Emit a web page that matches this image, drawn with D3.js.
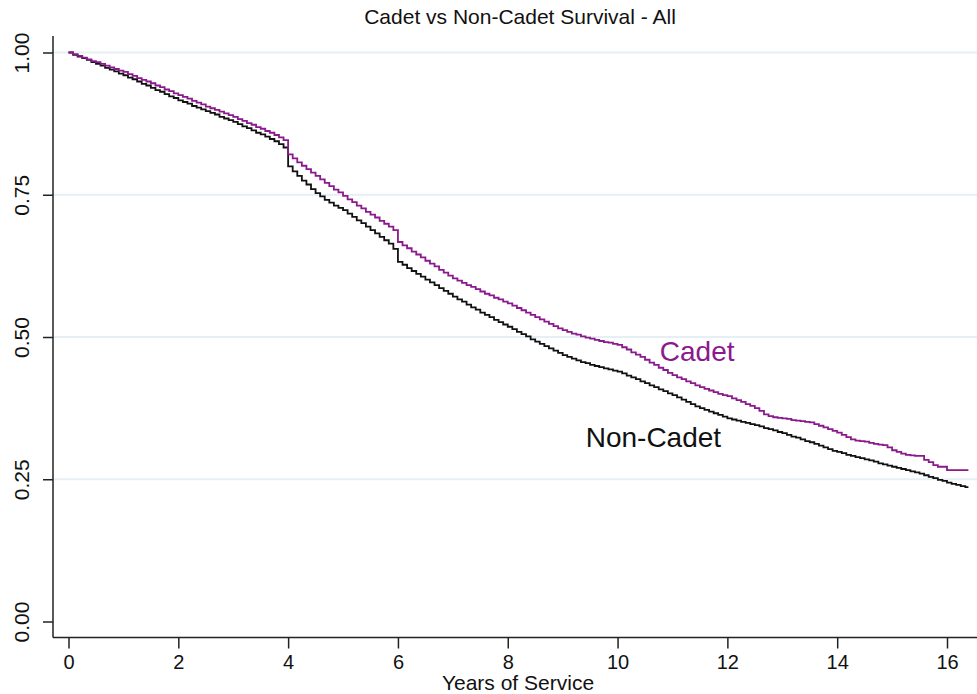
<!DOCTYPE html>
<meta charset="utf-8">
<style>
body {
  margin: 0;
  background: #fff;
  font-family: "Liberation Sans", Arial, Helvetica, sans-serif;
}
.grid line {
  stroke: #e6eff3;
  stroke-width: 1.8;
}
.axis line, .axis path {
  stroke: #222;
  stroke-width: 1.5;
}
.axis text {
  font-size: 20px;
  fill: #111;
}
.km {
  fill: none;
  stroke-width: 1.8;
}
</style>
<body>
<script src="https://cdn.jsdelivr.net/npm/d3@7"></script>
<script>

// Kaplan-Meier estimates at monthly steps (month 0 .. 196)
var cadet = [
  // year 0
  1.000, 0.997, 0.994, 0.991, 0.988, 0.985, 0.983, 0.980, 0.977, 0.974, 0.971, 0.968,
  // year 1
  0.966, 0.962, 0.959, 0.955, 0.952, 0.949, 0.946, 0.942, 0.939, 0.935, 0.932, 0.928,
  // year 2
  0.925, 0.922, 0.919, 0.915, 0.912, 0.909, 0.905, 0.902, 0.899, 0.896, 0.893, 0.890,
  // year 3
  0.887, 0.883, 0.880, 0.876, 0.873, 0.869, 0.866, 0.862, 0.859, 0.855, 0.851, 0.846,
  // year 4
  0.821, 0.814, 0.807, 0.801, 0.795, 0.789, 0.783, 0.777, 0.771, 0.765, 0.759, 0.754,
  // year 5
  0.748, 0.742, 0.737, 0.731, 0.726, 0.720, 0.715, 0.710, 0.704, 0.699, 0.694, 0.688,
  // year 6
  0.667, 0.661, 0.656, 0.650, 0.645, 0.640, 0.634, 0.629, 0.624, 0.618, 0.613, 0.608,
  // year 7
  0.603, 0.599, 0.595, 0.591, 0.588, 0.584, 0.580, 0.576, 0.573, 0.569, 0.566, 0.562,
  // year 8
  0.559, 0.555, 0.551, 0.547, 0.543, 0.539, 0.535, 0.531, 0.527, 0.523, 0.519, 0.515,
  // year 9
  0.512, 0.509, 0.506, 0.504, 0.501, 0.499, 0.497, 0.495, 0.493, 0.491, 0.490, 0.488,
  // year 10
  0.486, 0.482, 0.478, 0.473, 0.469, 0.465, 0.460, 0.455, 0.451, 0.446, 0.442, 0.437,
  // year 11
  0.433, 0.429, 0.426, 0.422, 0.419, 0.415, 0.412, 0.409, 0.406, 0.403, 0.400, 0.398,
  // year 12
  0.396, 0.392, 0.389, 0.386, 0.382, 0.379, 0.375, 0.370, 0.364, 0.361, 0.359, 0.358,
  // year 13
  0.357, 0.356, 0.354, 0.353, 0.352, 0.351, 0.350, 0.347, 0.344, 0.341, 0.338, 0.335,
  // year 14
  0.332, 0.328, 0.324, 0.320, 0.318, 0.317, 0.316, 0.314, 0.312, 0.311, 0.310, 0.306,
  // year 15
  0.301, 0.298, 0.295, 0.293, 0.292, 0.291, 0.291, 0.284, 0.280, 0.275, 0.272, 0.272,
  // year 16
  0.266, 0.266, 0.266, 0.266, 0.266
];

var nonCadet = [
  // year 0
  1.000, 0.996, 0.993, 0.990, 0.987, 0.983, 0.980, 0.977, 0.973, 0.970, 0.967, 0.963,
  // year 1
  0.960, 0.956, 0.953, 0.949, 0.945, 0.942, 0.938, 0.934, 0.931, 0.927, 0.923, 0.920,
  // year 2
  0.916, 0.913, 0.910, 0.906, 0.903, 0.900, 0.897, 0.894, 0.891, 0.887, 0.884, 0.881,
  // year 3
  0.878, 0.874, 0.870, 0.867, 0.863, 0.859, 0.856, 0.852, 0.848, 0.844, 0.839, 0.833,
  // year 4
  0.800, 0.791, 0.783, 0.775, 0.768, 0.760, 0.753, 0.747, 0.741, 0.736, 0.731, 0.727,
  // year 5
  0.723, 0.717, 0.711, 0.705, 0.700, 0.694, 0.688, 0.682, 0.676, 0.670, 0.664, 0.655,
  // year 6
  0.632, 0.627, 0.621, 0.616, 0.611, 0.606, 0.601, 0.596, 0.591, 0.586, 0.581, 0.576,
  // year 7
  0.571, 0.566, 0.562, 0.557, 0.552, 0.548, 0.543, 0.539, 0.535, 0.530, 0.526, 0.522,
  // year 8
  0.518, 0.514, 0.509, 0.505, 0.501, 0.496, 0.492, 0.488, 0.484, 0.480, 0.476, 0.472,
  // year 9
  0.468, 0.465, 0.462, 0.459, 0.456, 0.454, 0.451, 0.449, 0.447, 0.445, 0.443, 0.441,
  // year 10
  0.439, 0.436, 0.432, 0.429, 0.426, 0.422, 0.419, 0.415, 0.412, 0.408, 0.405, 0.401,
  // year 11
  0.398, 0.394, 0.390, 0.386, 0.382, 0.378, 0.375, 0.372, 0.369, 0.366, 0.363, 0.360,
  // year 12
  0.357, 0.355, 0.353, 0.351, 0.349, 0.347, 0.345, 0.343, 0.340, 0.338, 0.336, 0.333,
  // year 13
  0.331, 0.328, 0.325, 0.323, 0.320, 0.317, 0.315, 0.312, 0.309, 0.306, 0.303, 0.300,
  // year 14
  0.298, 0.296, 0.293, 0.291, 0.289, 0.287, 0.285, 0.283, 0.281, 0.278, 0.276, 0.274,
  // year 15
  0.272, 0.270, 0.268, 0.266, 0.264, 0.262, 0.260, 0.257, 0.254, 0.252, 0.249, 0.247,
  // year 16
  0.244, 0.242, 0.240, 0.238, 0.236
];

var followUpEnd = 16.39;   // last observed time, years

var xTicks = [0, 2, 4, 6, 8, 10, 12, 14, 16];
var yTicks = [0, 0.25, 0.5, 0.75, 1];

var seriesNames = ["Cadet", "Non-Cadet"];
var seriesColors = ["#8a1a8c", "#111111"];
// where Stata put the curve labels, in data units (years, survival)
var labelAt = [[10.77, 0.458], [9.42, 0.307]];

var width = 977,
    height = 694;

var frame = {left: 53, right: 977, top: 36, bottom: 637.5};

var x = d3.scaleLinear().domain([0, 16]).range([68.5, 947]);
var y = d3.scaleLinear().domain([0, 1]).range([621.5, 52.5]);

var svg = d3.select("body").append("svg")
    .attr("width", width)
    .attr("height", height);

// horizontal grid
svg.append("g")
    .attr("class", "grid")
  .selectAll("line")
    .data(yTicks.filter(function(d) { return d > 0; }))
  .enter().append("line")
    .attr("x1", frame.left)
    .attr("x2", frame.right)
    .attr("y1", function(d) { return y(d); })
    .attr("y2", function(d) { return y(d); });

// title
svg.append("text")
    .attr("x", 520)
    .attr("y", 24)
    .attr("text-anchor", "middle")
    .style("font-size", "21px")
    .style("fill", "#111")
    .text("Cadet vs Non-Cadet Survival - All");

// x axis
var gx = svg.append("g")
    .attr("class", "axis")
    .attr("transform", "translate(0," + frame.bottom + ")")
    .call(d3.axisBottom(x).tickValues(xTicks).tickSize(11).tickPadding(6).tickSizeOuter(0));
gx.select(".domain").remove();
gx.append("line")
    .attr("x1", frame.left)
    .attr("x2", frame.right);

svg.append("text")
    .attr("x", 518)
    .attr("y", 690)
    .attr("text-anchor", "middle")
    .style("font-size", "21px")
    .style("fill", "#111")
    .text("Years of Service");

// y axis
var gy = svg.append("g")
    .attr("class", "axis")
    .attr("transform", "translate(" + frame.left + ",0)")
    .call(d3.axisLeft(y).tickValues(yTicks).tickFormat(d3.format(".2f")).tickSize(10).tickSizeOuter(0));
gy.select(".domain").remove();
gy.append("line")
    .attr("y1", frame.top)
    .attr("y2", frame.bottom);
gy.selectAll(".tick text")
    .attr("transform", "rotate(-90)")
    .attr("x", 0)
    .attr("y", -24.5)
    .attr("dy", 0)
    .attr("text-anchor", "middle")
    .style("font-size", "21px");

// step curves
function toSteps(values) {
  var pts = values.map(function(v, m) { return [m / 12, v]; });
  pts.push([followUpEnd, values[values.length - 1]]);
  return pts;
}

var line = d3.line()
    .x(function(d) { return x(d[0]); })
    .y(function(d) { return y(d[1]); })
    .curve(d3.curveStepAfter);

var curves = [toSteps(cadet), toSteps(nonCadet)];

// draw non-cadet first so cadet sits on top, as in the original
svg.selectAll(".km")
    .data([1, 0])
  .enter().append("path")
    .attr("class", "km")
    .style("stroke", function(i) { return seriesColors[i]; })
    .attr("d", function(i) { return line(curves[i]); });

svg.selectAll(".curve-label")
    .data([0, 1])
  .enter().append("text")
    .attr("class", "curve-label")
    .attr("x", function(i) { return x(labelAt[i][0]); })
    .attr("y", function(i) { return y(labelAt[i][1]); })
    .style("font-size", "28px")
    .style("fill", function(i) { return seriesColors[i]; })
    .text(function(i) { return seriesNames[i]; });

</script>
